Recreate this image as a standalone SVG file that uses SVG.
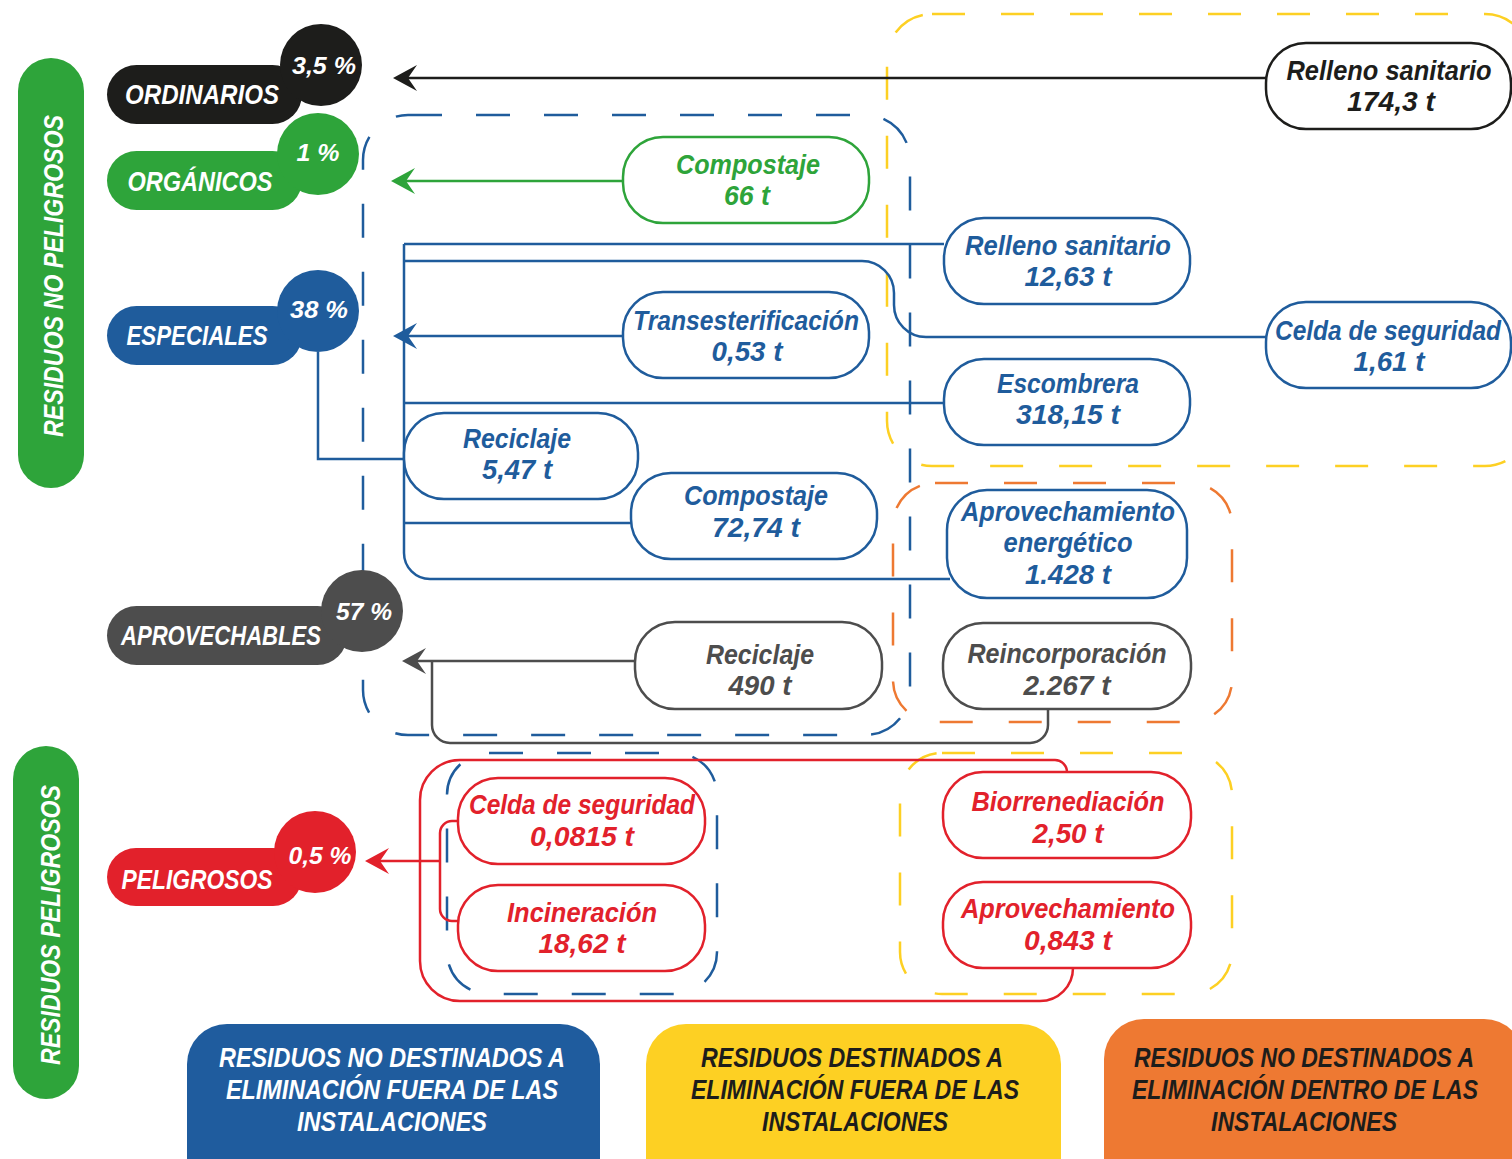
<svg xmlns="http://www.w3.org/2000/svg" width="1512" height="1159" viewBox="0 0 1512 1159">
<style>
.t{font-family:"Liberation Sans",Arial,sans-serif;font-weight:700;font-style:italic;font-size:28px;text-anchor:middle}
.p{font-size:24px}
.w{fill:#fff}
.nd{fill:#fff;stroke-width:2.5}
.c{fill:none;stroke-width:2.5}
.d{fill:none;stroke-width:2.5}
.bk{stroke:#1d1d1b}.bkf{fill:#1d1d1b}
.gr{stroke:#2ea43a}.grf{fill:#2ea43a}
.bl{stroke:#1f5c9c}.blf{fill:#1f5c9c}
.gy{stroke:#4d4d4d}.gyf{fill:#4d4d4d}
.rd{stroke:#e2212b}.rdf{fill:#e2212b}
.ye{stroke:#fdd023}.or{stroke:#ee7932}
</style>
<defs>
<marker id="a-bk" viewBox="-26 -14 28 28" refX="-12" refY="0" markerWidth="28" markerHeight="28" markerUnits="userSpaceOnUse" orient="auto"><path d="M0,0 L-24,-13 L-15,0 L-24,13 Z" fill="#1d1d1b"/></marker>
<marker id="a-gr" viewBox="-26 -14 28 28" refX="-12" refY="0" markerWidth="28" markerHeight="28" markerUnits="userSpaceOnUse" orient="auto"><path d="M0,0 L-24,-13 L-15,0 L-24,13 Z" fill="#2ea43a"/></marker>
<marker id="a-bl" viewBox="-26 -14 28 28" refX="-12" refY="0" markerWidth="28" markerHeight="28" markerUnits="userSpaceOnUse" orient="auto"><path d="M0,0 L-24,-13 L-15,0 L-24,13 Z" fill="#1f5c9c"/></marker>
<marker id="a-gy" viewBox="-26 -14 28 28" refX="-12" refY="0" markerWidth="28" markerHeight="28" markerUnits="userSpaceOnUse" orient="auto"><path d="M0,0 L-24,-13 L-15,0 L-24,13 Z" fill="#4d4d4d"/></marker>
<marker id="a-rd" viewBox="-26 -14 28 28" refX="-12" refY="0" markerWidth="28" markerHeight="28" markerUnits="userSpaceOnUse" orient="auto"><path d="M0,0 L-24,-13 L-15,0 L-24,13 Z" fill="#e2212b"/></marker>
</defs>
<rect width="1512" height="1159" fill="#fff"/>

<!-- region outlines -->
<g id="regions">
<rect class="d ye" x="887" y="14" width="643" height="452" rx="45" stroke-dasharray="33 36"/>
<rect class="d bl" x="363" y="115" width="547" height="620" rx="45" stroke-dasharray="34 34"/>
<rect class="d or" x="893" y="483" width="339" height="239" rx="42" stroke-dasharray="33 36"/>
<rect class="d ye" x="900" y="753" width="332" height="241" rx="42" stroke-dasharray="33 36"/>
<rect class="d bl" x="447" y="753" width="270" height="241" rx="42" stroke-dasharray="34 34"/>
</g>

<!-- side labels -->
<g id="side-no-peligrosos">
<rect x="18" y="58" width="66" height="430" rx="33" fill="#2ea43a"/>
<text class="t w" transform="translate(63,276) rotate(-90)" font-size="30" textLength="322" lengthAdjust="spacingAndGlyphs">RESIDUOS NO PELIGROSOS</text>
</g>
<g id="side-peligrosos">
<rect x="13" y="746" width="66" height="353" rx="33" fill="#2ea43a"/>
<text class="t w" transform="translate(60,925) rotate(-90)" font-size="30" textLength="280" lengthAdjust="spacingAndGlyphs">RESIDUOS PELIGROSOS</text>
</g>

<!-- connectors -->
<g id="connectors">
<path class="c bk" d="M1266 78 H405" marker-end="url(#a-bk)"/>
<path class="c gr" d="M623 181 H403" marker-end="url(#a-gr)"/>
<path class="c bl" d="M623 336 H405" marker-end="url(#a-bl)"/>
<path class="c bl" d="M404 244 H944"/>
<path class="c bl" d="M404 244 V553 A26 26 0 0 0 430 579 H950"/>
<path class="c bl" d="M404 261 H862 A32 32 0 0 1 894 293 V305 A32 32 0 0 0 926 337 H1266"/>
<path class="c bl" d="M404 403 H944"/>
<path class="c bl" d="M318 352 V459 H404"/>
<path class="c bl" d="M404 523 H631"/>
<path class="c gy" d="M635 661 H414" marker-end="url(#a-gy)"/>
<path class="c gy" d="M1048 710 V725 A18 18 0 0 1 1030 743 H450 A18 18 0 0 1 432 725 V661"/>
<path class="c rd" d="M440 861 H377" marker-end="url(#a-rd)"/>
<path class="c rd" d="M460 821 H452 A12 12 0 0 0 440 833 V909 A12 12 0 0 0 452 921 H460"/>
<path class="c rd" d="M1067 772 A12 12 0 0 0 1055 760 H460 A40 40 0 0 0 420 800 V961 A40 40 0 0 0 460 1001 H1040 A33 33 0 0 0 1073 968"/>
</g>

<!-- categories -->
<g id="cat-ordinarios">
<rect x="107" y="65" width="195" height="59" rx="29.5" class="bkf"/>
<circle cx="321" cy="65" r="41" class="bkf"/>
<text class="t w" x="202" y="104" font-size="27" textLength="154" lengthAdjust="spacingAndGlyphs">ORDINARIOS</text>
<text class="t p w" x="324" y="74" textLength="64" lengthAdjust="spacingAndGlyphs">3,5 %</text>
</g>
<g id="cat-organicos">
<rect x="107" y="151" width="195" height="59" rx="29.5" class="grf"/>
<circle cx="318" cy="154" r="41" class="grf"/>
<text class="t w" x="200" y="191" font-size="27" textLength="145" lengthAdjust="spacingAndGlyphs">ORGÁNICOS</text>
<text class="t p w" x="318" y="161" textLength="43" lengthAdjust="spacingAndGlyphs">1 %</text>
</g>
<g id="cat-especiales">
<rect x="107" y="306" width="195" height="59" rx="29.5" class="blf"/>
<circle cx="318" cy="311" r="41" class="blf"/>
<text class="t w" x="197" y="345" font-size="27" textLength="141" lengthAdjust="spacingAndGlyphs">ESPECIALES</text>
<text class="t p w" x="319" y="318" textLength="58" lengthAdjust="spacingAndGlyphs">38 %</text>
</g>
<g id="cat-aprovechables">
<rect x="107" y="606" width="240" height="59" rx="29.5" class="gyf"/>
<circle cx="362" cy="611" r="41" class="gyf"/>
<text class="t w" x="221" y="645" font-size="27" textLength="200" lengthAdjust="spacingAndGlyphs">APROVECHABLES</text>
<text class="t p w" x="364" y="620" textLength="56" lengthAdjust="spacingAndGlyphs">57 %</text>
</g>
<g id="cat-peligrosos">
<rect x="107" y="848" width="195" height="58" rx="29" class="rdf"/>
<circle cx="315" cy="852" r="41" class="rdf"/>
<text class="t w" x="197" y="889" font-size="27" textLength="151" lengthAdjust="spacingAndGlyphs">PELIGROSOS</text>
<text class="t p w" x="320" y="864" textLength="63" lengthAdjust="spacingAndGlyphs">0,5 %</text>
</g>

<!-- nodes -->
<g id="n-relleno-174">
<rect class="nd bk" x="1266" y="43" width="245" height="86" rx="40"/>
<text class="t bkf" x="1389" y="80" textLength="205" lengthAdjust="spacingAndGlyphs">Relleno sanitario</text>
<text class="t bkf" x="1391" y="111" textLength="88" lengthAdjust="spacingAndGlyphs">174,3 t</text>
</g>
<g id="n-compostaje-66">
<rect class="nd gr" x="623" y="137" width="246" height="86" rx="40"/>
<text class="t grf" x="748" y="174" textLength="144" lengthAdjust="spacingAndGlyphs">Compostaje</text>
<text class="t grf" x="747" y="205" textLength="46" lengthAdjust="spacingAndGlyphs">66 t</text>
</g>
<g id="n-relleno-1263">
<rect class="nd bl" x="944" y="218" width="246" height="86" rx="40"/>
<text class="t blf" x="1068" y="255" textLength="206" lengthAdjust="spacingAndGlyphs">Relleno sanitario</text>
<text class="t blf" x="1068" y="286" textLength="87" lengthAdjust="spacingAndGlyphs">12,63 t</text>
</g>
<g id="n-transesterificacion">
<rect class="nd bl" x="623" y="292" width="246" height="86" rx="40"/>
<text class="t blf" x="746" y="330" textLength="226" lengthAdjust="spacingAndGlyphs">Transesterificación</text>
<text class="t blf" x="747" y="361" textLength="71" lengthAdjust="spacingAndGlyphs">0,53 t</text>
</g>
<g id="n-celda-161">
<rect class="nd bl" x="1266" y="302" width="245" height="86" rx="40"/>
<text class="t blf" x="1388" y="340" textLength="226" lengthAdjust="spacingAndGlyphs">Celda de seguridad</text>
<text class="t blf" x="1389" y="371" textLength="71" lengthAdjust="spacingAndGlyphs">1,61 t</text>
</g>
<g id="n-escombrera">
<rect class="nd bl" x="944" y="359" width="246" height="86" rx="40"/>
<text class="t blf" x="1068" y="393" textLength="142" lengthAdjust="spacingAndGlyphs">Escombrera</text>
<text class="t blf" x="1068" y="424" textLength="104" lengthAdjust="spacingAndGlyphs">318,15 t</text>
</g>
<g id="n-reciclaje-547">
<rect class="nd bl" x="404" y="413" width="234" height="86" rx="40"/>
<text class="t blf" x="517" y="448" textLength="108" lengthAdjust="spacingAndGlyphs">Reciclaje</text>
<text class="t blf" x="517" y="479" textLength="70" lengthAdjust="spacingAndGlyphs">5,47 t</text>
</g>
<g id="n-compostaje-7274">
<rect class="nd bl" x="631" y="473" width="246" height="86" rx="40"/>
<text class="t blf" x="756" y="505" textLength="144" lengthAdjust="spacingAndGlyphs">Compostaje</text>
<text class="t blf" x="756" y="537" textLength="88" lengthAdjust="spacingAndGlyphs">72,74 t</text>
</g>
<g id="n-aprovechamiento-energetico">
<rect class="nd bl" x="947" y="490" width="240" height="108" rx="40"/>
<text class="t blf" x="1068" y="521" textLength="214" lengthAdjust="spacingAndGlyphs">Aprovechamiento</text>
<text class="t blf" x="1068" y="552" textLength="129" lengthAdjust="spacingAndGlyphs">energético</text>
<text class="t blf" x="1068" y="584" textLength="86" lengthAdjust="spacingAndGlyphs">1.428 t</text>
</g>
<g id="n-reciclaje-490">
<rect class="nd gy" x="635" y="622" width="247" height="87" rx="40"/>
<text class="t gyf" x="760" y="664" textLength="108" lengthAdjust="spacingAndGlyphs">Reciclaje</text>
<text class="t gyf" x="760" y="695" textLength="63" lengthAdjust="spacingAndGlyphs">490 t</text>
</g>
<g id="n-reincorporacion">
<rect class="nd gy" x="943" y="623" width="248" height="86" rx="40"/>
<text class="t gyf" x="1067" y="663" textLength="199" lengthAdjust="spacingAndGlyphs">Reincorporación</text>
<text class="t gyf" x="1067" y="695" textLength="87" lengthAdjust="spacingAndGlyphs">2.267 t</text>
</g>
<g id="n-celda-00815">
<rect class="nd rd" x="458" y="778" width="247" height="86" rx="40"/>
<text class="t rdf" x="582" y="814" textLength="226" lengthAdjust="spacingAndGlyphs">Celda de seguridad</text>
<text class="t rdf" x="582" y="846" textLength="104" lengthAdjust="spacingAndGlyphs">0,0815 t</text>
</g>
<g id="n-incineracion">
<rect class="nd rd" x="458" y="885" width="247" height="86" rx="40"/>
<text class="t rdf" x="582" y="922" textLength="150" lengthAdjust="spacingAndGlyphs">Incineración</text>
<text class="t rdf" x="582" y="953" textLength="87" lengthAdjust="spacingAndGlyphs">18,62 t</text>
</g>
<g id="n-biorrenediacion">
<rect class="nd rd" x="943" y="772" width="248" height="86" rx="40"/>
<text class="t rdf" x="1068" y="811" textLength="193" lengthAdjust="spacingAndGlyphs">Biorrenediación</text>
<text class="t rdf" x="1068" y="843" textLength="71" lengthAdjust="spacingAndGlyphs">2,50 t</text>
</g>
<g id="n-aprovechamiento">
<rect class="nd rd" x="943" y="882" width="248" height="86" rx="40"/>
<text class="t rdf" x="1068" y="918" textLength="214" lengthAdjust="spacingAndGlyphs">Aprovechamiento</text>
<text class="t rdf" x="1068" y="950" textLength="88" lengthAdjust="spacingAndGlyphs">0,843 t</text>
</g>

<!-- legend -->
<g id="legend-blue">
<rect x="187" y="1024" width="413" height="180" rx="40" fill="#1f5c9e"/>
<text class="t w" x="392" y="1067" textLength="346" lengthAdjust="spacingAndGlyphs">RESIDUOS NO DESTINADOS A</text>
<text class="t w" x="392" y="1099" textLength="332" lengthAdjust="spacingAndGlyphs">ELIMINACIÓN FUERA DE LAS</text>
<text class="t w" x="392" y="1131" textLength="190" lengthAdjust="spacingAndGlyphs">INSTALACIONES</text>
</g>
<g id="legend-yellow">
<rect x="646" y="1024" width="415" height="180" rx="40" fill="#fdd023"/>
<text class="t bkf" x="852" y="1067" textLength="302" lengthAdjust="spacingAndGlyphs">RESIDUOS DESTINADOS A</text>
<text class="t bkf" x="855" y="1099" textLength="328" lengthAdjust="spacingAndGlyphs">ELIMINACIÓN FUERA DE LAS</text>
<text class="t bkf" x="855" y="1131" textLength="186" lengthAdjust="spacingAndGlyphs">INSTALACIONES</text>
</g>
<g id="legend-orange">
<rect x="1104" y="1019" width="420" height="185" rx="40" fill="#ee7932"/>
<text class="t bkf" x="1304" y="1067" textLength="340" lengthAdjust="spacingAndGlyphs">RESIDUOS NO DESTINADOS A</text>
<text class="t bkf" x="1305" y="1099" textLength="346" lengthAdjust="spacingAndGlyphs">ELIMINACIÓN DENTRO DE LAS</text>
<text class="t bkf" x="1304" y="1131" textLength="186" lengthAdjust="spacingAndGlyphs">INSTALACIONES</text>
</g>
</svg>
